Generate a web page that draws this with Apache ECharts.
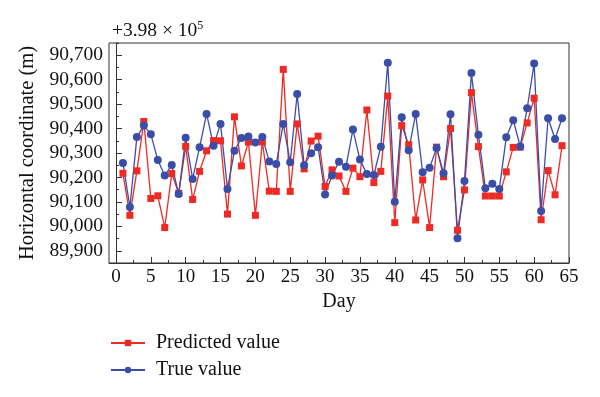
<!DOCTYPE html>
<html><head><meta charset="utf-8">
<script src="https://cdn.jsdelivr.net/npm/echarts@6/dist/echarts.min.js"></script>
<style>html,body{margin:0;padding:0;background:#fff}#c{width:600px;height:397px}</style>
</head><body><div id="c"></div>
<script>
const days = [1,2,3,4,5,6,7,8,9,10,11,12,13,14,15,16,17,18,19,20,21,22,23,24,25,26,27,28,29,30,31,32,33,34,35,36,37,38,39,40,41,42,43,44,45,46,47,48,49,50,51,52,53,54,55,56,57,58,59,60,61,62,63,64];
const predicted = [90217,90045,90227,90429,90114,90125,89995,90216,90135,90327,90110,90225,90309,90351,90350,90050,90448,90247,90345,90045,90345,90144,90143,90642,90143,90419,90235,90349,90369,90163,90231,90206,90143,90238,90203,90476,90179,90225,90533,90015,90412,90334,90026,90190,89995,90324,90203,90400,89984,90149,90547,90326,90124,90124,90124,90223,90323,90324,90423,90524,90027,90228,90129,90330];
const trueVal = [90259,90079,90365,90412,90377,90271,90208,90251,90132,90362,90194,90324,90460,90330,90419,90153,90309,90361,90368,90343,90365,90265,90255,90419,90262,90541,90250,90299,90324,90130,90208,90264,90244,90396,90273,90214,90210,90326,90669,90101,90446,90311,90460,90221,90240,90320,90217,90459,89951,90185,90627,90375,90156,90174,90153,90364,90434,90327,90483,90666,90063,90442,90357,90442];
const yLabels = [89900,90000,90100,90200,90300,90400,90500,90600,90700];
const yMinor = [89850,89950,90050,90150,90250,90350,90450,90550,90650,90750];
const xLabels = [0,5,10,15,20,25,30,35,40,45,50,55,60,65];
const xMinor = [2.5,7.5,12.5,17.5,22.5,27.5,32.5,37.5,42.5,47.5,52.5,57.5,62.5];

const FONT = '"Liberation Serif", "DejaVu Serif", serif';
const RED = '#ee2a24', BLUE = '#3a4ea8';
const chart = echarts.init(document.getElementById('c'), null, {renderer:'canvas'});
const fmt = v => v.toLocaleString('en-US');
chart.setOption({
  animation:false,
  backgroundColor:'#fff',
  grid:{left:109, right:31, top:43, bottom:134, show:true, borderColor:'#333', borderWidth:1, backgroundColor:'transparent'},
  title:{
    text:'{a|+3.98 × 10}{s|5}', left:107, top:15,
    textStyle:{fontWeight:'normal',rich:{a:{fontFamily:FONT,fontSize:19.5,color:'#111',fontWeight:'normal'},s:{fontFamily:FONT,fontSize:12,color:'#111',fontWeight:'normal',verticalAlign:'top',padding:[0,0,9,0]}}}
  },
  legend:{
    orient:'vertical', left:110, top:333, padding:0, itemWidth:34, itemHeight:8, itemGap:7,
    textStyle:{fontFamily:FONT,fontSize:20,color:'#111',padding:[0,0,0,6]},
    data:['Predicted value','True value']
  },
  xAxis:[{
    type:'value', min:-1, max:65,
    name:'Day', nameLocation:'middle', nameGap:27,
    nameTextStyle:{fontFamily:FONT,fontSize:20,color:'#111'},
    axisLine:{show:true,lineStyle:{color:'#333',width:1}},
    axisTick:{show:true,inside:true,length:6,customValues:xLabels,lineStyle:{color:'#333'}},
    axisLabel:{customValues:xLabels,fontFamily:FONT,fontSize:19,color:'#111',margin:5},
    splitLine:{show:false}
  },{
    type:'value', min:-1, max:65, position:'bottom',
    axisLine:{show:false},
    axisTick:{show:true,inside:true,length:3,customValues:xMinor,lineStyle:{color:'#333'}},
    axisLabel:{show:false}, splitLine:{show:false}
  }],
  yAxis:[{
    type:'value', min:89850, max:90750,
    name:'Horizontal coordinate (m)', nameLocation:'middle', nameGap:69,
    nameTextStyle:{fontFamily:FONT,fontSize:20.5,color:'#111'},
    axisLine:{show:true,lineStyle:{color:'#333',width:1}},
    axisTick:{show:true,inside:true,length:6,customValues:yLabels,lineStyle:{color:'#333'}},
    axisLabel:{customValues:yLabels,formatter:v=>fmt(v),fontFamily:FONT,fontSize:19.5,color:'#111',margin:6},
    splitLine:{show:false}
  },{
    type:'value', min:89850, max:90750, position:'left',
    axisLine:{show:false},
    axisTick:{show:true,inside:true,length:3,customValues:yMinor,lineStyle:{color:'#333'}},
    axisLabel:{show:false}, splitLine:{show:false}
  }],
  series:[{
    name:'Predicted value', type:'line', xAxisIndex:0, yAxisIndex:0,
    data:days.map((d,i)=>[d,predicted[i]]),
    symbol:'rect', symbolSize:7, showAllSymbol:true,
    lineStyle:{color:RED,width:1.3}, itemStyle:{color:RED}
  },{
    name:'True value', type:'line', xAxisIndex:0, yAxisIndex:0,
    data:days.map((d,i)=>[d,trueVal[i]]),
    symbol:'circle', symbolSize:8, showAllSymbol:true,
    lineStyle:{color:BLUE,width:1.3}, itemStyle:{color:BLUE}
  }]
});
</script></body></html>
